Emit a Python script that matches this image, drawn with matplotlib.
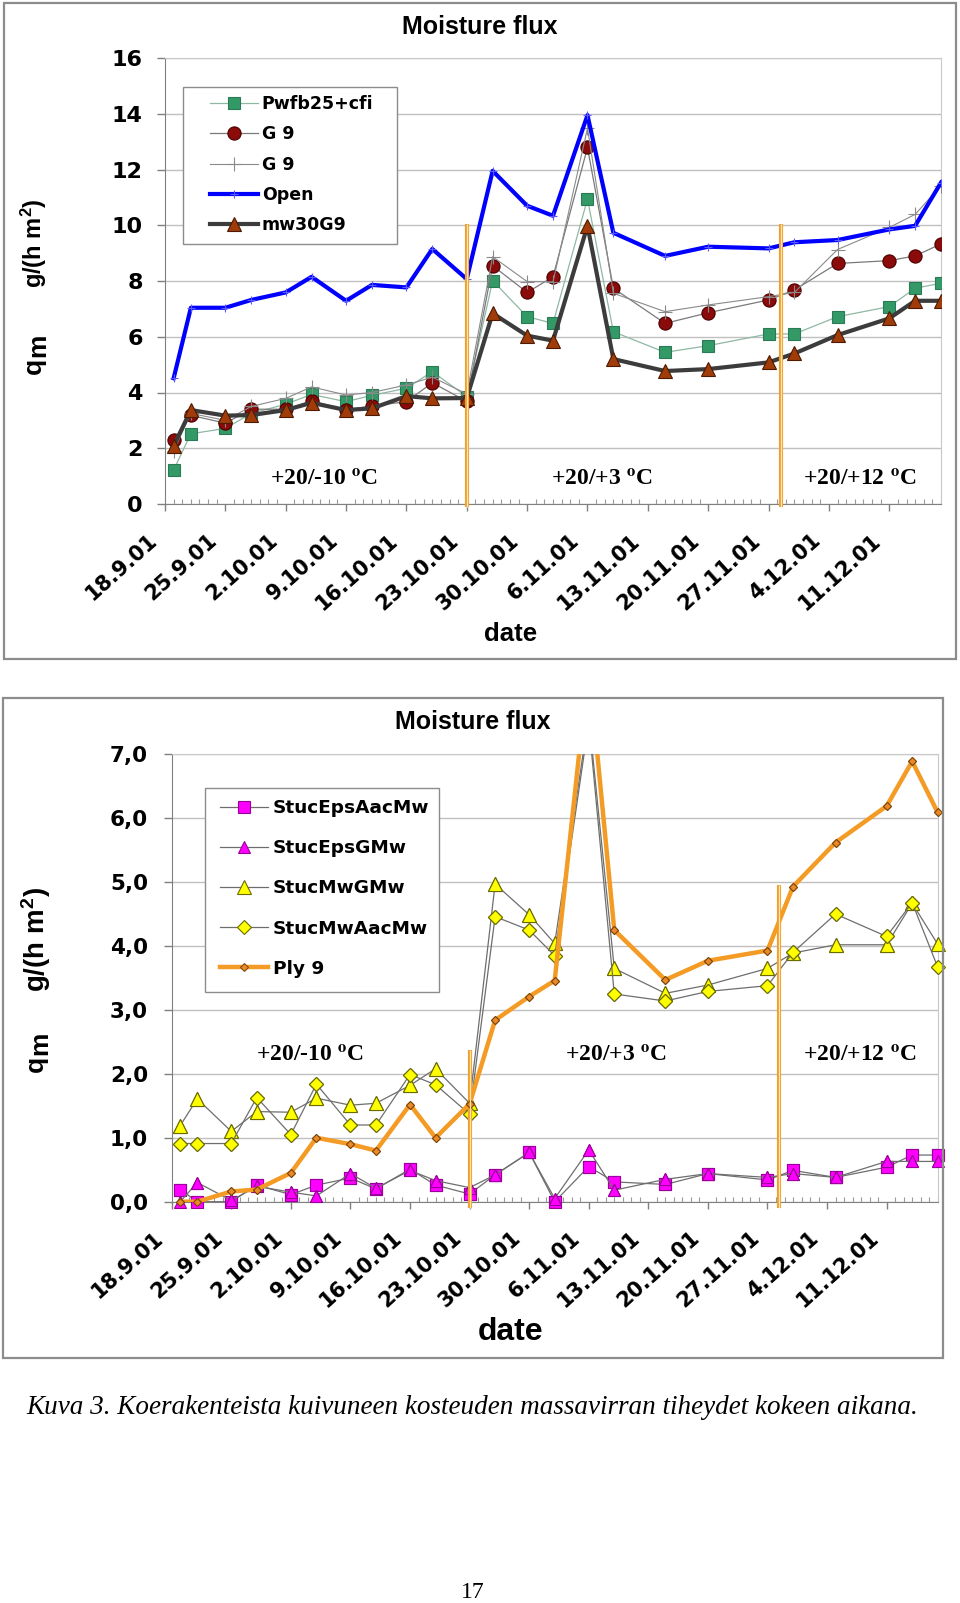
import numpy as np
import matplotlib
matplotlib.use('Agg')
import matplotlib.pyplot as plt
import matplotlib.patches as patches
import matplotlib.transforms as mtransforms
from matplotlib.ticker import MultipleLocator, FuncFormatter
from datetime import date

# the scanned page has wide, heavy chart lettering: DejaVu Sans Bold fits it best
plt.rcParams['font.family'] = ['DejaVu Sans']
plt.rcParams['font.weight'] = 'bold'
plt.rcParams['mathtext.fontset'] = 'custom'
plt.rcParams['mathtext.rm'] = 'Liberation Sans:bold'
plt.rcParams['mathtext.it'] = 'Liberation Sans:bold'
plt.rcParams['mathtext.bf'] = 'Liberation Sans:bold'

# ──────────────────────────────────────────────────────────────
# Data
# ──────────────────────────────────────────────────────────────
START = date(2001, 9, 18)

meas_dates = ["19.9.01", "21.9.01", "25.9.01", "28.9.01", "2.10.01", "5.10.01",
              "9.10.01", "12.10.01", "16.10.01", "19.10.01", "23.10.01", "26.10.01",
              "30.10.01", "2.11.01", "6.11.01", "9.11.01", "15.11.01", "20.11.01",
              "27.11.01", "30.11.01", "5.12.01", "11.12.01", "14.12.01", "17.12.01"]

tick_dates = ["18.9.01", "25.9.01", "2.10.01", "9.10.01", "16.10.01", "23.10.01",
              "30.10.01", "6.11.01", "13.11.01", "20.11.01", "27.11.01", "4.12.01",
              "11.12.01"]

# top chart
pwfb25_cfi = [1.22, 2.52, 2.71, 3.25, 3.58, 3.93, 3.67, 3.90, 4.15, 4.75, 3.85, 8.01,
              6.72, 6.48, 10.94, 6.18, 5.44, 5.68, 6.10, 6.10, 6.72, 7.08, 7.74, 7.92]
g9_a = [2.30, 3.18, 2.90, 3.40, 3.40, 3.70, 3.38, 3.52, 3.67, 4.35, 3.68, 8.55,
        7.59, 8.15, 12.79, 7.74, 6.48, 6.86, 7.32, 7.68, 8.63, 8.73, 8.90, 9.33]
g9_b = [1.90, 3.25, 3.00, 3.50, 3.79, 4.20, 3.91, 4.00, 4.27, 4.55, 3.95, 8.87,
        7.98, 7.97, 13.48, 7.56, 6.90, 7.14, 7.44, 7.59, 9.13, 9.92, 10.39, 11.42]
open_ref = [4.51, 7.04, 7.04, 7.32, 7.59, 8.15, 7.29, 7.86, 7.77, 9.15, 8.07, 11.95,
            10.70, 10.34, 13.95, 9.73, 8.90, 9.23, 9.17, 9.39, 9.47, 9.85, 9.98, 11.53]
mw30g9 = [2.08, 3.37, 3.17, 3.19, 3.37, 3.63, 3.37, 3.43, 3.87, 3.79, 3.80, 6.84,
          6.04, 5.86, 9.98, 5.20, 4.77, 4.84, 5.08, 5.40, 6.06, 6.66, 7.29, 7.29]

# bottom chart
stuc_eps_aac_mw = [0.19, 0.0, 0.0, 0.26, 0.11, 0.26, 0.37, 0.20, 0.51, 0.26, 0.12, 0.42,
                   0.77, 0.0, 0.55, 0.31, 0.27, 0.44, 0.34, 0.49, 0.38, 0.54, 0.73, 0.73]
stuc_eps_g_mw = [0.0, 0.30, 0.02, 0.24, 0.15, 0.09, 0.44, 0.21, 0.49, 0.33, 0.22, 0.42,
                 0.77, 0.05, 0.81, 0.18, 0.35, 0.44, 0.38, 0.44, 0.38, 0.63, 0.63, 0.63]
stuc_mw_g_mw = [1.19, 1.61, 1.10, 1.41, 1.40, 1.62, 1.51, 1.54, 1.82, 2.08, 1.54, 4.97,
                4.49, 4.04, 7.60, 3.65, 3.26, 3.39, 3.65, 3.89, 4.02, 4.02, 4.67, 4.03]
stuc_mw_aac_mw = [0.91, 0.91, 0.91, 1.63, 1.05, 1.84, 1.20, 1.20, 1.99, 1.83, 1.37, 4.46,
                  4.25, 3.85, 7.50, 3.25, 3.14, 3.29, 3.38, 3.90, 4.50, 4.15, 4.68, 3.67]
ply9 = [0.0, 0.0, 0.16, 0.19, 0.45, 1.00, 0.90, 0.80, 1.52, 1.00, 1.53, 2.84,
        3.21, 3.46, 8.40, 4.25, 3.47, 3.77, 3.93, 4.93, 5.62, 6.19, 6.89, 6.09]

# climate phase changes (days after 18.9.01) and phase labels
phase_change_days = [35.0, 71.4]
phase_labels = ["+20/-10 ", "+20/+3 ", "+20/+12 "]


def to_days(labels):
    out = []
    for s in labels:
        d, m, y = s.split('.')
        out.append((date(2000 + int(y), int(m), int(d)) - START).days)
    return np.array(out, dtype=float)


x = to_days(meas_dates)
tick_x = to_days(tick_dates)

W, H = 960, 1603
fig = plt.figure(figsize=(W / 100, H / 100), dpi=100)
fig.patch.set_facecolor('white')


def fx(px):
    return px / W


def fy(py):
    return 1 - py / H


def frame(x0, y0, x1, y1, ax=None, lw=1.6, z=1):
    rect = patches.Rectangle((fx(x0), fy(y1)), fx(x1) - fx(x0), fy(y0) - fy(y1),
                             transform=fig.transFigure, fill=ax is not None,
                             facecolor='white', edgecolor='#8c8c8c', lw=lw,
                             clip_on=False, zorder=z)
    if ax is None:
        fig.patches.append(rect)
    else:
        ax.add_patch(rect)


def style_axes(ax, ymax, ystep, fmt, ysize):
    ax.set_xlim(0, 90)
    ax.set_ylim(0, ymax)
    ax.set_yticks(np.arange(0, ymax + ystep / 2, ystep))
    ax.yaxis.set_major_formatter(FuncFormatter(fmt))
    ax.set_xticks(tick_x)
    ax.set_xticklabels(tick_dates, rotation=42, ha='right', va='center',
                       rotation_mode='anchor')
    ax.xaxis.set_minor_locator(MultipleLocator(1))
    ax.tick_params(axis='x', which='major', direction='out', length=5, width=1,
                   color='#808080', pad=19, labelsize=15)
    ax.tick_params(axis='x', which='minor', direction='in', length=3.3, width=0.8,
                   color='#999999')
    ax.tick_params(axis='y', direction='out', length=6, width=1, color='#808080',
                   pad=10, labelsize=ysize)
    ax.grid(axis='y', color='#c0c0c0', lw=1)
    ax.set_axisbelow(True)
    for side in ['left', 'bottom']:
        ax.spines[side].set_color('#808080')
    for side in ['top', 'right']:
        ax.spines[side].set_color('#c8c8c8')
    offset = mtransforms.ScaledTranslation(-0.11, 0, fig.dpi_scale_trans)
    for lab in ax.get_xticklabels():
        lab.set_transform(lab.get_transform() + offset)


def phase_lines(ax, tops, bottom):
    for d, top in zip(phase_change_days, tops):
        ax.plot([d, d], [bottom, top], color='#EFA12F', lw=3.0,
                clip_on=False, zorder=6, solid_capstyle='butt')
        ax.plot([d, d], [bottom, top], color='#FCE6B0', lw=0.9,
                clip_on=False, zorder=7, solid_capstyle='butt')


def phase_texts(ax, xs, y):
    for px, lab in zip(xs, phase_labels):
        ax.text(px, y, lab + r'$^{\rm o}$C', ha='center', va='center',
                family='Liberation Serif', weight='bold', fontsize=17,
                math_fontfamily='stix', zorder=8)


def box_legend(ax, box, anchor, size, spacing, hlen, hpad):
    frame(*box, ax=ax, lw=1.0, z=9)
    leg = ax.legend(loc='upper left', bbox_to_anchor=(fx(anchor[0]), fy(anchor[1])),
                    bbox_transform=fig.transFigure, borderaxespad=0, fontsize=size,
                    frameon=False, handlelength=hlen, handletextpad=hpad,
                    labelspacing=spacing, borderpad=0)
    leg.set_zorder(10)


def y_label(xc, y_unit, y_q, y_m, size_unit, size_q):
    fig.text(fx(xc), fy(y_unit), r'g/(h m$^{\mathrm{2}}$)', rotation=90, ha='center',
             va='center', fontsize=size_unit, family='Liberation Sans')
    # q with a lowered, full size m
    fig.text(fx(xc), fy(y_q), 'q', rotation=90, ha='center', va='center',
             fontsize=size_q, family='Liberation Sans')
    fig.text(fx(xc + 4), fy(y_m), 'm', rotation=90, ha='center', va='center',
             fontsize=size_q, family='Liberation Sans')


# ──────────────────────────────────────────────────────────────
# Top chart
# ──────────────────────────────────────────────────────────────
frame(4, 3, 956, 659)
ax1 = fig.add_axes([fx(165), fy(504), fx(941) - fx(165), fy(58) - fy(504)])
style_axes(ax1, 16, 2, lambda v, p: f'{v:.0f}', 16)

ax1.plot(x, pwfb25_cfi, color='#8fb8a4', lw=0.9, marker='s', ms=9,
         mfc='#339966', mec='#2a7a55', mew=0.8, label='Pwfb25+cfi', zorder=3)
ax1.plot(x, g9_a, color='#7a7a7a', lw=0.9, marker='o', ms=9.5,
         mfc='#8b0a0a', mec='#4a0000', mew=0.8, label='G 9', zorder=3)
ax1.plot(x, g9_b, color='#8a8a8a', lw=0.8, marker='+', ms=10, mew=0.8,
         mec='#8a8a8a', label='G 9', zorder=3)
ax1.plot(x, open_ref, color='#0000FF', lw=3.0, marker='+', ms=6, mew=0.8,
         mec='#5a5aff', label='Open', zorder=4)
ax1.plot(x, mw30g9, color='#3c3c3c', lw=3.0, marker='^', ms=10,
         mfc='#a03c0a', mec='#4d1a00', mew=0.8, label='mw30G9', zorder=5)

phase_lines(ax1, [10.04, 10.03], -0.1)
phase_texts(ax1, [18.4, 50.7, 80.6], 0.84)
box_legend(ax1, (183, 87, 397, 244), (210, 95), 12.5, 0.71, 2.75, 0.23)

fig.text(fx(480), fy(27), 'Moisture flux', ha='center', va='center', fontsize=18,
         family='Liberation Sans')
fig.text(fx(511), fy(634), 'date', ha='center', va='center', fontsize=18.5,
         family='Liberation Sans')
y_label(34, 243, 366, 345, 17, 19)

# ──────────────────────────────────────────────────────────────
# Bottom chart
# ──────────────────────────────────────────────────────────────
frame(3, 698, 943, 1358)
ax2 = fig.add_axes([fx(171.7), fy(1201.7), fx(937.7) - fx(171.7), fy(754.3) - fy(1201.7)])
style_axes(ax2, 7, 1, lambda v, p: f'{v:.1f}'.replace('.', ','), 15.5)
ax2.tick_params(axis='y', pad=11)

bottom_series = [
    (stuc_eps_aac_mw, 'StucEpsAacMw', dict(color='#6e6e6e', lw=0.9, marker='s', ms=9,
                                           mfc='#FF00FF', mec='#9a009a', mew=0.8)),
    (stuc_eps_g_mw, 'StucEpsGMw', dict(color='#6e6e6e', lw=0.9, marker='^', ms=9,
                                       mfc='#FF00FF', mec='#9a009a', mew=0.8)),
    (stuc_mw_g_mw, 'StucMwGMw', dict(color='#6e6e6e', lw=0.9, marker='^', ms=10,
                                     mfc='#FFFF00', mec='#6b6b00', mew=0.8)),
    (stuc_mw_aac_mw, 'StucMwAacMw', dict(color='#6e6e6e', lw=0.9, marker='D', ms=7,
                                         mfc='#FFFF00', mec='#6b6b00', mew=0.8)),
    (ply9, 'Ply 9', dict(color='#F39B24', lw=3.2, marker='D', ms=4.5,
                         mfc='#E8892A', mec='#7a4000', mew=0.7)),
]
for z, (vals, name, st) in enumerate(bottom_series):
    vals = np.array(vals)
    ax2.plot(x, vals, label=name, zorder=3 + z, **st)
    # markers stay whole at the axis, values above the top are cut away
    m = np.where(vals > 7, np.nan, vals)
    mst = {k: v for k, v in st.items() if k not in ('lw', 'color')}
    ax2.plot(x, m, ls='none', clip_on=False, zorder=3 + z, **mst)

phase_lines(ax2, [2.37, 4.95], -0.1)
phase_texts(ax2, [16.2, 52.2, 80.9], 2.28)
box_legend(ax2, (205, 788, 439, 992), (220, 799), 13.3, 1.2, 2.6, 0.27)

fig.text(fx(473), fy(722), 'Moisture flux', ha='center', va='center', fontsize=18,
         family='Liberation Sans')
fig.text(fx(511), fy(1332), 'date', ha='center', va='center', fontsize=23,
         family='Liberation Sans')
y_label(36, 940, 1064, 1043, 20, 19)

# ──────────────────────────────────────────────────────────────
# Caption and page number
# ──────────────────────────────────────────────────────────────
fig.text(fx(472), fy(1407),
         'Kuva 3. Koerakenteista kuivuneen kosteuden massavirran tiheydet kokeen aikana.',
         ha='center', va='center', family='Liberation Serif', style='italic',
         weight='normal', fontsize=19.5)
fig.text(fx(473), fy(1592), '17', ha='center', va='center', family='Liberation Serif',
         weight='normal', fontsize=17)

fig.savefig('out.png', dpi=100)
